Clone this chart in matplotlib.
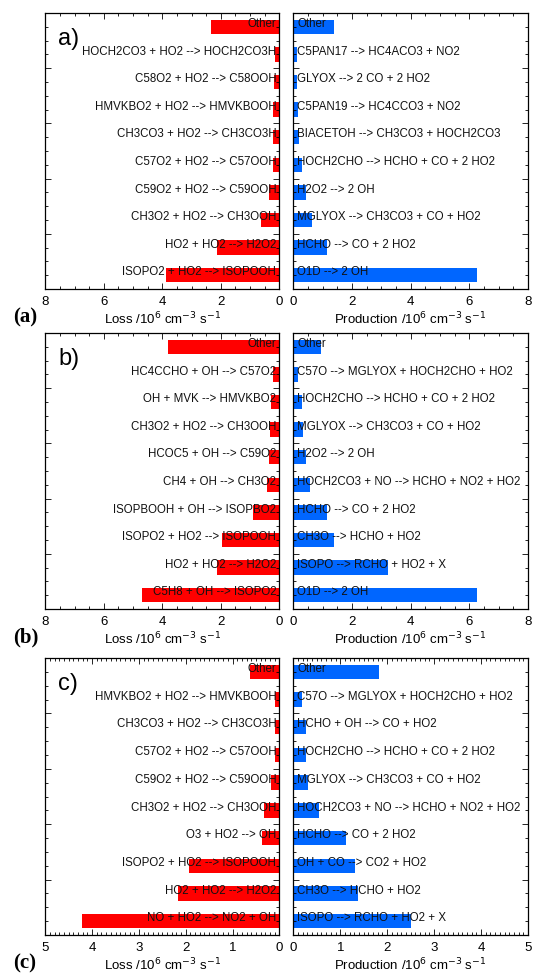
import matplotlib
matplotlib.use("Agg")
import matplotlib.pyplot as plt
import matplotlib.transforms as mtransforms
import numpy as np
from matplotlib.ticker import MultipleLocator, NullFormatter

plt.rcParams["font.family"] = ["Liberation Sans", "DejaVu Sans"]

# all lists run top -> bottom, as drawn in the figure
loss_a_labels = ["Other", "HOCH2CO3 + HO2 --> HOCH2CO3H", "C58O2 + HO2 --> C58OOH",
                 "HMVKBO2 + HO2 --> HMVKBOOH", "CH3CO3 + HO2 --> CH3CO3H",
                 "C57O2 + HO2 --> C57OOH", "C59O2 + HO2 --> C59OOH",
                 "CH3O2 + HO2 --> CH3OOH", "HO2 + HO2 --> H2O2", "ISOPO2 + HO2 --> ISOPOOH"]
loss_a_values = [2.34, 0.16, 0.18, 0.20, 0.20, 0.20, 0.34, 0.64, 2.14, 3.89]
prod_a_labels = ["Other", "C5PAN17 --> HC4ACO3 + NO2", "GLYOX --> 2 CO + 2 HO2",
                 "C5PAN19 --> HC4CCO3 + NO2", "BIACETOH --> CH3CO3 + HOCH2CO3",
                 "HOCH2CHO --> HCHO + CO + 2 HO2", "H2O2 --> 2 OH",
                 "MGLYOX --> CH3CO3 + CO + HO2", "HCHO --> CO + 2 HO2", "O1D --> 2 OH"]
prod_a_values = [1.38, 0.14, 0.14, 0.16, 0.20, 0.31, 0.43, 0.64, 1.15, 6.25]

loss_b_labels = ["Other", "HC4CCHO + OH --> C57O2", "OH + MVK --> HMVKBO2",
                 "CH3O2 + HO2 --> CH3OOH", "HCOC5 + OH --> C59O2", "CH4 + OH --> CH3O2",
                 "ISOPBOOH + OH --> ISOPBO2", "ISOPO2 + HO2 --> ISOPOOH",
                 "HO2 + HO2 --> H2O2", "C5H8 + OH --> ISOPO2"]
loss_b_values = [3.81, 0.23, 0.28, 0.32, 0.36, 0.43, 0.91, 1.97, 2.14, 4.69]
prod_b_labels = ["Other", "C57O --> MGLYOX + HOCH2CHO + HO2",
                 "HOCH2CHO --> HCHO + CO + 2 HO2", "MGLYOX --> CH3CO3 + CO + HO2",
                 "H2O2 --> 2 OH", "HOCH2CO3 + NO --> HCHO + NO2 + HO2",
                 "HCHO --> CO + 2 HO2", "CH3O --> HCHO + HO2",
                 "ISOPO --> RCHO + HO2 + X", "O1D --> 2 OH"]
prod_b_values = [0.93, 0.17, 0.30, 0.32, 0.43, 0.57, 1.15, 1.38, 3.23, 6.25]

loss_c_labels = ["Other", "HMVKBO2 + HO2 --> HMVKBOOH", "CH3CO3 + HO2 --> CH3CO3H",
                 "C57O2 + HO2 --> C57OOH", "C59O2 + HO2 --> C59OOH",
                 "CH3O2 + HO2 --> CH3OOH", "O3 + HO2 --> OH", "ISOPO2 + HO2 --> ISOPOOH",
                 "HO2 + HO2 --> H2O2", "NO + HO2 --> NO2 + OH"]
loss_c_values = [0.63, 0.10, 0.10, 0.10, 0.17, 0.33, 0.38, 1.94, 2.17, 4.22]
prod_c_labels = ["Other", "C57O --> MGLYOX + HOCH2CHO + HO2", "HCHO + OH --> CO + HO2",
                 "HOCH2CHO --> HCHO + CO + 2 HO2", "MGLYOX --> CH3CO3 + CO + HO2",
                 "HOCH2CO3 + NO --> HCHO + NO2 + HO2", "HCHO --> CO + 2 HO2",
                 "OH + CO --> CO2 + HO2", "CH3O --> HCHO + HO2", "ISOPO --> RCHO + HO2 + X"]
prod_c_values = [1.83, 0.19, 0.28, 0.28, 0.31, 0.55, 1.12, 1.31, 1.37, 2.51]

panels = [
    ("a)", "(a)", loss_a_labels, loss_a_values, prod_a_labels, prod_a_values, 8, 2, 0.5),
    ("b)", "(b)", loss_b_labels, loss_b_values, prod_b_labels, prod_b_values, 8, 2, 0.5),
    ("c)", "(c)", loss_c_labels, loss_c_values, prod_c_labels, prod_c_values, 5, 1, 0.1),
]

RED = "#ff0000"
BLUE = "#0066ff"
W, H = 533, 973

fig = plt.figure(figsize=(W / 100, H / 100), dpi=100)

# pixel geometry of each row: (top, bottom)
rows = [(13, 289), (333, 609), (658, 935)]
left_x = (45.3, 279.3)
right_x = (293.3, 528.0)


def style_axes(ax, xmax, major, minor):
    ax.set_ylim(0, 10)
    ax.yaxis.set_major_locator(MultipleLocator(2))
    ax.yaxis.set_minor_locator(MultipleLocator(0.5))
    ax.yaxis.set_major_formatter(NullFormatter())
    ax.xaxis.set_major_locator(MultipleLocator(major))
    ax.xaxis.set_minor_locator(MultipleLocator(minor))
    ax.tick_params(which="both", direction="in", top=True, right=True,
                   width=0.6, labelsize=9.5, pad=5)
    ax.tick_params(which="major", length=4.5)
    ax.tick_params(which="minor", length=2.5)
    for s in ax.spines.values():
        s.set_linewidth(0.9)


for (tag, blabel, l_lab, l_val, p_lab, p_val, xmax, major, minor), (top, bot) in zip(panels, rows):
    y0 = 1 - bot / H
    h = (bot - top) / H
    axL = fig.add_axes([left_x[0] / W, y0, (left_x[1] - left_x[0]) / W, h])
    axR = fig.add_axes([right_x[0] / W, y0, (right_x[1] - right_x[0]) / W, h])

    pos = np.arange(len(l_lab))[::-1] + 0.5

    axL.barh(pos, l_val, height=0.52, color=RED, zorder=1)
    axL.set_xlim(xmax, 0)
    style_axes(axL, xmax, major, minor)
    axL.set_xlabel(r"Loss /10$^{6}$ cm$^{-3}$ s$^{-1}$", fontsize=9.5, labelpad=2)
    trL = mtransforms.blended_transform_factory(axL.transAxes, axL.transData)
    for y, lab in zip(pos, l_lab):
        axL.text(0.987, y + 0.1, lab, transform=trL, ha="right", va="center",
                 fontsize=8.3, color="#111111", zorder=2)
    axL.text(0.055, 9.05, tag, transform=axL.transData if False else trL,
             ha="left", va="center", fontsize=17)

    axR.barh(pos, p_val, height=0.52, color=BLUE, zorder=1)
    axR.set_xlim(0, xmax)
    style_axes(axR, xmax, major, minor)
    axR.set_xlabel(r"Production /10$^{6}$ cm$^{-3}$ s$^{-1}$", fontsize=9.5, labelpad=2)
    trR = mtransforms.blended_transform_factory(axR.transAxes, axR.transData)
    for y, lab in zip(pos, p_lab):
        axR.text(0.016, y + 0.1, lab, transform=trR, ha="left", va="center",
                 fontsize=8.3, color="#111111", zorder=2)

    fig.text(13 / W, 1 - (bot + 28) / H, blabel, ha="left", va="center",
             fontsize=15, fontweight="bold", family="Liberation Serif")

fig.savefig("out.png", dpi=100)
